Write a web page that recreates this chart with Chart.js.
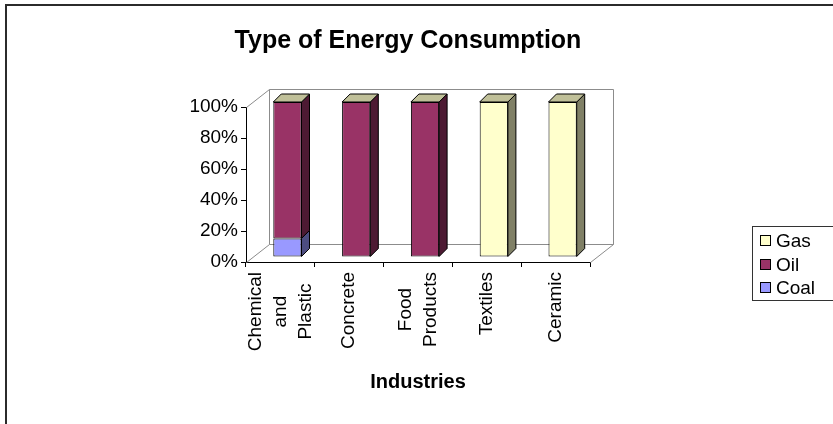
<!DOCTYPE html>
<html>
<head>
<meta charset="utf-8">
<title>Type of Energy Consumption</title>
<script src="https://cdn.jsdelivr.net/npm/chart.js@4/dist/chart.umd.min.js"></script>
<style>
  html, body { margin: 0; padding: 0; background: #fff; }
  canvas { display: block; }
</style>
</head>
<body>
<canvas id="c" width="833" height="424"></canvas>
<script>
// ---- data ----
const industries = [['Chemical', 'and', 'Plastic'], ['Concrete'], ['Food', 'Products'], ['Textiles'], ['Ceramic']];
const coalShare = [12, 0, 0, 0, 0];
const oilShare  = [88, 100, 100, 0, 0];
const gasShare  = [0, 0, 0, 100, 100];
const yTickLabels = ['0%', '20%', '40%', '60%', '80%', '100%'];
const chartTitle = 'Type of Energy Consumption';
const xAxisTitle = 'Industries';

// ---- styling ----
const FONT = "'Liberation Sans', Arial, Helvetica, sans-serif";
const WALL_DEPTH = { x: 23, y: -18 };   // offset of the back wall from the front plane
const BAR_SHIFT  = { x: 7,  y: -5 };    // bars sit a little behind the front plane
const BAR_DEPTH  = { x: 8,  y: -8 };    // thickness of each column
const sideColors = { Coal: '#4d4d80', Oil: '#4d1a33', Gas: '#808066' };
const topColor = '#c0c099';

function poly(ctx, pts, fill) {
  ctx.beginPath();
  ctx.moveTo(pts[0][0], pts[0][1]);
  for (let i = 1; i < pts.length; i++) ctx.lineTo(pts[i][0], pts[i][1]);
  ctx.closePath();
  ctx.fillStyle = fill;
  ctx.fill();
  ctx.stroke();
}

const columns3d = {
  id: 'columns3d',
  beforeDraw(chart) {
    const ctx = chart.ctx;
    ctx.save();
    ctx.fillStyle = '#fff';
    ctx.fillRect(0, 0, chart.width, chart.height);
    ctx.strokeStyle = '#2b2b2b';
    ctx.lineWidth = 2;
    ctx.strokeRect(6, 5, chart.width + 40, chart.height + 40);
    ctx.restore();
  },
  beforeDatasetsDraw(chart) {
    const { ctx, chartArea: a } = chart;
    const dx = WALL_DEPTH.x, dy = WALL_DEPTH.y;
    ctx.save();
    ctx.strokeStyle = '#8c8c8c';
    ctx.lineWidth = 1;
    ctx.beginPath();
    ctx.rect(a.left + dx + 0.5, a.top + dy + 0.5, a.right - a.left, a.bottom - a.top);
    ctx.moveTo(a.left + 0.5, a.top + 0.5);
    ctx.lineTo(a.left + dx + 0.5, a.top + dy + 0.5);
    ctx.moveTo(a.left + 0.5, a.bottom + 0.5);
    ctx.lineTo(a.left + dx + 0.5, a.bottom + dy + 0.5);
    ctx.moveTo(a.right + 0.5, a.bottom + 0.5);
    ctx.lineTo(a.right + dx + 0.5, a.bottom + dy + 0.5);
    ctx.stroke();
    ctx.restore();
    // columns are drawn in a plane slightly behind the axes
    ctx.save();
    ctx.translate(BAR_SHIFT.x, BAR_SHIFT.y);
  },
  afterDatasetsDraw(chart) {
    const ctx = chart.ctx;
    const dx = BAR_DEPTH.x, dy = BAR_DEPTH.y;
    ctx.strokeStyle = '#000';
    ctx.lineWidth = 1;
    const tops = [];
    chart.data.datasets.forEach((ds, k) => {
      const meta = chart.getDatasetMeta(k);
      meta.data.forEach((bar, i) => {
        const p = bar.getProps(['x', 'y', 'base', 'width'], true);
        const top = Math.min(p.y, p.base), bottom = Math.max(p.y, p.base);
        const left = p.x - p.width / 2, right = p.x + p.width / 2;
        if (!tops[i] || top < tops[i].top) tops[i] = { top, left, right };
        if (bottom - top < 0.5) return;
        poly(ctx, [[right, top], [right + dx, top + dy], [right + dx, bottom + dy], [right, bottom]],
             sideColors[ds.label]);
      });
    });
    tops.forEach(t => {
      poly(ctx, [[t.left, t.top], [t.left + dx, t.top + dy], [t.right + dx, t.top + dy], [t.right, t.top]], topColor);
    });
    ctx.restore();
  },
  afterDraw(chart) {
    const { ctx, chartArea: a } = chart;
    const xs = chart.scales.x;
    ctx.save();
    ctx.fillStyle = '#000';

    // title
    ctx.font = `bold 25px ${FONT}`;
    ctx.textAlign = 'center';
    ctx.textBaseline = 'middle';
    ctx.fillText(chartTitle, 408, 41);

    // category labels, rotated, one column per line
    ctx.font = `19px ${FONT}`;
    const lh = 25;
    chart.data.labels.forEach((lines, i) => {
      const x = xs.getPixelForValue(i);
      const maxW = Math.max(...lines.map(s => ctx.measureText(s).width));
      const yc = a.bottom + 10 + maxW / 2;
      lines.forEach((s, j) => {
        const cx = x + (j - (lines.length - 1) / 2) * lh;
        ctx.save();
        ctx.translate(cx, yc);
        ctx.rotate(-Math.PI / 2);
        ctx.fillText(s, 0, 0);
        ctx.restore();
      });
    });

    // axis title
    ctx.font = `bold 20px ${FONT}`;
    ctx.fillText(xAxisTitle, 418, 382);

    // legend
    ctx.strokeStyle = '#333';
    ctx.lineWidth = 1;
    ctx.strokeRect(752.5, 226.5, 120, 74);
    ctx.font = `19px ${FONT}`;
    ctx.textAlign = 'left';
    const items = chart.data.datasets.slice().reverse();
    items.forEach((ds, n) => {
      const y = Math.round(241 + n * 23.5);
      ctx.fillStyle = ds.backgroundColor;
      ctx.fillRect(760.5, y - 5.5, 10, 10);
      ctx.strokeStyle = '#000';
      ctx.strokeRect(760.5, y - 5.5, 10, 10);
      ctx.fillStyle = '#000';
      ctx.fillText(ds.label, 776, y + 1);
    });
    ctx.restore();
  }
};

new Chart(document.getElementById('c'), {
  type: 'bar',
  data: {
    labels: industries,
    datasets: [
      { label: 'Coal', data: coalShare, backgroundColor: '#9999ff' },
      { label: 'Oil',  data: oilShare,  backgroundColor: '#993366' },
      { label: 'Gas',  data: gasShare,  backgroundColor: '#ffffcc' }
    ]
  },
  options: {
    responsive: false,
    animation: false,
    events: [],
    layout: { padding: { left: 0, top: 107, right: 243, bottom: 0 } },
    datasets: {
      bar: {
        categoryPercentage: 1,
        barPercentage: 0.41,
        borderWidth: 1,
        borderColor: '#000',
        borderSkipped: false,
        clip: false
      }
    },
    plugins: {
      legend: { display: false },
      title: { display: false },
      tooltip: { enabled: false }
    },
    scales: {
      x: {
        stacked: true,
        offset: true,
        grid: { offset: true, drawOnChartArea: false, drawTicks: true, tickLength: 5, color: '#000' },
        border: { display: true, color: '#000', width: 1 },
        ticks: { display: false },
        afterFit(s) { s.height = 162; }
      },
      y: {
        stacked: true,
        min: 0,
        max: 100,
        ticks: {
          stepSize: 20,
          padding: 3,
          color: '#000',
          font: { size: 19, family: FONT },
          callback: (v, i) => yTickLabels[i]
        },
        grid: { drawOnChartArea: false, drawTicks: true, tickLength: 5, color: '#000' },
        border: { display: true, color: '#000', width: 1 },
        afterFit(s) { s.width = 246; }
      }
    }
  },
  plugins: [columns3d]
});
</script>
</body>
</html>
